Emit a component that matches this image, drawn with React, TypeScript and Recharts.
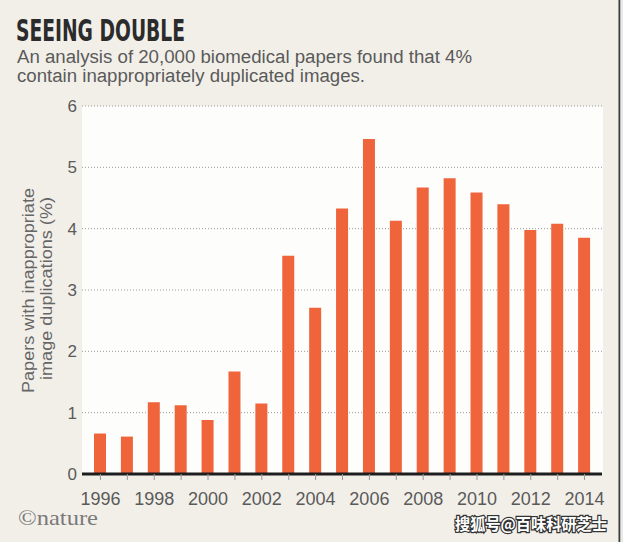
import { BarChart, Bar, XAxis, YAxis, CartesianGrid } from "recharts";

const years = [
  "1996", "1997", "1998", "1999", "2000", "2001", "2002", "2003", "2004", "2005",
  "2006", "2007", "2008", "2009", "2010", "2011", "2012", "2013", "2014",
];
const duplicationPct = [
  0.66, 0.61, 1.17, 1.12, 0.88, 1.67, 1.15, 3.56, 2.71, 4.33,
  5.46, 4.13, 4.67, 4.82, 4.59, 4.4, 3.98, 4.08, 3.85,
];
const yTicks = [0, 1, 2, 3, 4, 5, 6];
const labelledYears = ["1996", "1998", "2000", "2002", "2004", "2006", "2008", "2010", "2012", "2014"];

const title = "SEEING DOUBLE";
const subtitle = [
  "An analysis of 20,000 biomedical papers found that 4%",
  "contain inappropriately duplicated images.",
];
const yLabel = ["Papers with inappropriate", "image duplications (%)"];

const data = years.map((year, i) => ({ year, value: duplicationPct[i] }));

const BG = "#f2efe9";
const BAR = "#ef643b";
const TEXT = "#5a5a5a";

export default function App() {
  return (
    // absolute so the body's default 8px margin doesn't shift the picture
    <div style={{ position: "absolute", left: 0, top: 0, width: 623, height: 542, background: BG, overflow: "hidden" }}>
      {/* white plot panel */}
      <div style={{ position: "absolute", left: 82, top: 106, width: 521, height: 368, background: "#fdfdfc" }} />

      <div style={{ position: "absolute", left: 0, top: 0 }}>
        <BarChart
          width={623}
          height={542}
          data={data}
          margin={{ top: 106, right: 21, bottom: 0, left: 0 }}
          barCategoryGap={0}
        >
          <CartesianGrid vertical={false} stroke="#9a9a9a" strokeDasharray="1 2" />
          <YAxis
            width={82}
            domain={[0, 6]}
            ticks={yTicks}
            interval={0}
            axisLine={false}
            tickLine={false}
            tickSize={0}
            tickMargin={5}
            tick={{ fontSize: 17, fill: TEXT, fontFamily: "Liberation Sans" }}
          />
          <XAxis
            dataKey="year"
            height={68}
            interval={0}
            padding={{ left: 5, right: 4 }}
            axisLine={{ stroke: "#1e1e1e", strokeWidth: 3 }}
            tickLine={{ stroke: "#999" }}
            tickSize={6}
            tickMargin={12}
            tickFormatter={(y: string) => (labelledYears.includes(y) ? y : "")}
            tick={{ fontSize: 18, fill: TEXT, fontFamily: "Liberation Sans" }}
          />
          <Bar dataKey="value" fill={BAR} barSize={12} isAnimationActive={false} />
        </BarChart>
      </div>

      {/* titles, axis label, credits */}
      <svg width={623} height={542} style={{ position: "absolute", left: 0, top: 0, pointerEvents: "none" }}>
        <text
          x={16}
          y={41}
          fontFamily="DejaVu Sans Condensed, Liberation Sans Narrow"
          fontWeight="bold"
          fontSize={30}
          fill="#2b2b2b"
          textLength={169}
          lengthAdjust="spacingAndGlyphs"
        >
          {title}
        </text>
        <text x={17} y={62.5} fontFamily="Liberation Sans" fontSize={18} fill={TEXT} textLength={455} lengthAdjust="spacingAndGlyphs">
          {subtitle[0]}
        </text>
        <text x={17} y={82} fontFamily="Liberation Sans" fontSize={18} fill={TEXT} textLength={348} lengthAdjust="spacingAndGlyphs">
          {subtitle[1]}
        </text>

        <text
          transform="translate(34,290.5) rotate(-90)"
          textAnchor="middle"
          fontFamily="Liberation Sans"
          fontSize={16}
          fill="#666"
          textLength={205}
          lengthAdjust="spacingAndGlyphs"
        >
          {yLabel[0]}
        </text>
        <text
          transform="translate(52,288.5) rotate(-90)"
          textAnchor="middle"
          fontFamily="Liberation Sans"
          fontSize={16}
          fill="#666"
          textLength={183}
          lengthAdjust="spacingAndGlyphs"
        >
          {yLabel[1]}
        </text>

        <text x={18} y={525} fontFamily="Liberation Serif" fontSize={21} fill="#7a7a7a" textLength={80} lengthAdjust="spacingAndGlyphs">
          ©nature
        </text>
        <text
          x={455}
          y={530}
          fontFamily="Noto Sans CJK SC"
          fontWeight="bold"
          fontSize={16}
          fill="#ffffff"
          stroke="#333"
          strokeWidth={2.5}
          paintOrder="stroke"
          textLength={152}
          lengthAdjust="spacingAndGlyphs"
        >
          搜狐号@百味科研芝士
        </text>

        <line x1={619.5} y1={0} x2={619.5} y2={542} stroke="#3a3a3a" strokeWidth={2} />
        <rect x={620.5} y={0} width={3} height={542} fill="#e9e9e9" />
      </svg>
    </div>
  );
}
